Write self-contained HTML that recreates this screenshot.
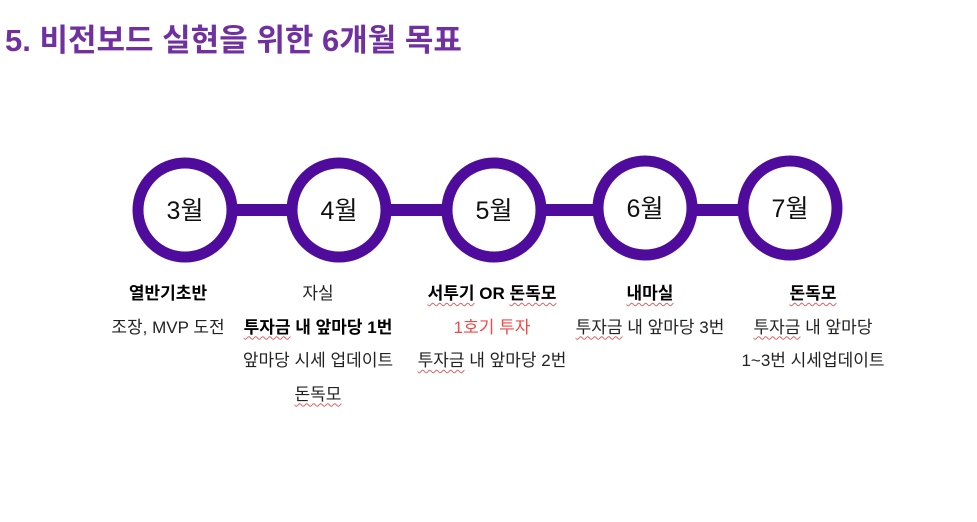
<!DOCTYPE html>
<html><head><meta charset="utf-8"><style>
body{margin:0;width:977px;height:522px;background:#fff;position:relative;overflow:hidden;font-family:"Liberation Sans","Noto Sans CJK KR",sans-serif;}
.t{position:absolute;left:5px;top:15px;font-size:31px;font-weight:bold;color:#7030a0;white-space:nowrap;}
.col{position:absolute;top:277px;width:240px;text-align:center;font-size:17px;color:#222;line-height:33.5px;}
.col div{white-space:nowrap}
b{font-weight:bold;color:#000}
.w{text-decoration:underline wavy #e06060;text-decoration-thickness:1px;text-underline-offset:3px}
.r{color:#f04848}
</style></head><body>
<div class="t">5. 비전보드 실현을 위한 6개월 목표</div>
<svg width="977" height="522" style="position:absolute;left:0;top:0">
<line x1="185" y1="210" x2="790" y2="210" stroke="#4f0c9c" stroke-width="12"/>
<g fill="#fff" stroke="#4f0c9c" stroke-width="11">
<circle cx="185" cy="210" r="47"/><circle cx="339" cy="210" r="47"/><circle cx="494" cy="210" r="47"/><circle cx="645" cy="208" r="47"/><circle cx="790" cy="208" r="47"/>
</g>
<g font-family="Liberation Sans,Noto Sans CJK KR,sans-serif" font-size="25" fill="#111" text-anchor="middle">
<text x="185" y="219">3월</text><text x="339" y="219">4월</text><text x="494" y="219">5월</text><text x="645" y="217">6월</text><text x="790" y="217">7월</text>
</g></svg>
<div class="col" style="left:48px"><div><b>열반기초반</b></div><div>조장, MVP 도전</div></div>
<div class="col" style="left:198px"><div>자실</div><div><b><span class="w">투자금</span> 내 앞마당 1번</b></div><div>앞마당 시세 업데이트</div><div><span class="w">돈독모</span></div></div>
<div class="col" style="left:372px"><div><b><span class="w">서투기</span> OR <span class="w">돈독모</span></b></div><div class="r">1호기 투자</div><div><span class="w">투자금</span> 내 앞마당 2번</div></div>
<div class="col" style="left:530px"><div><b><span class="w">내마실</span></b></div><div><span class="w">투자금</span> 내 앞마당 3번</div></div>
<div class="col" style="left:693px"><div><b><span class="w">돈독모</span></b></div><div><span class="w">투자금</span> 내 앞마당</div><div>1~3번 시세업데이트</div></div>
</body></html>
